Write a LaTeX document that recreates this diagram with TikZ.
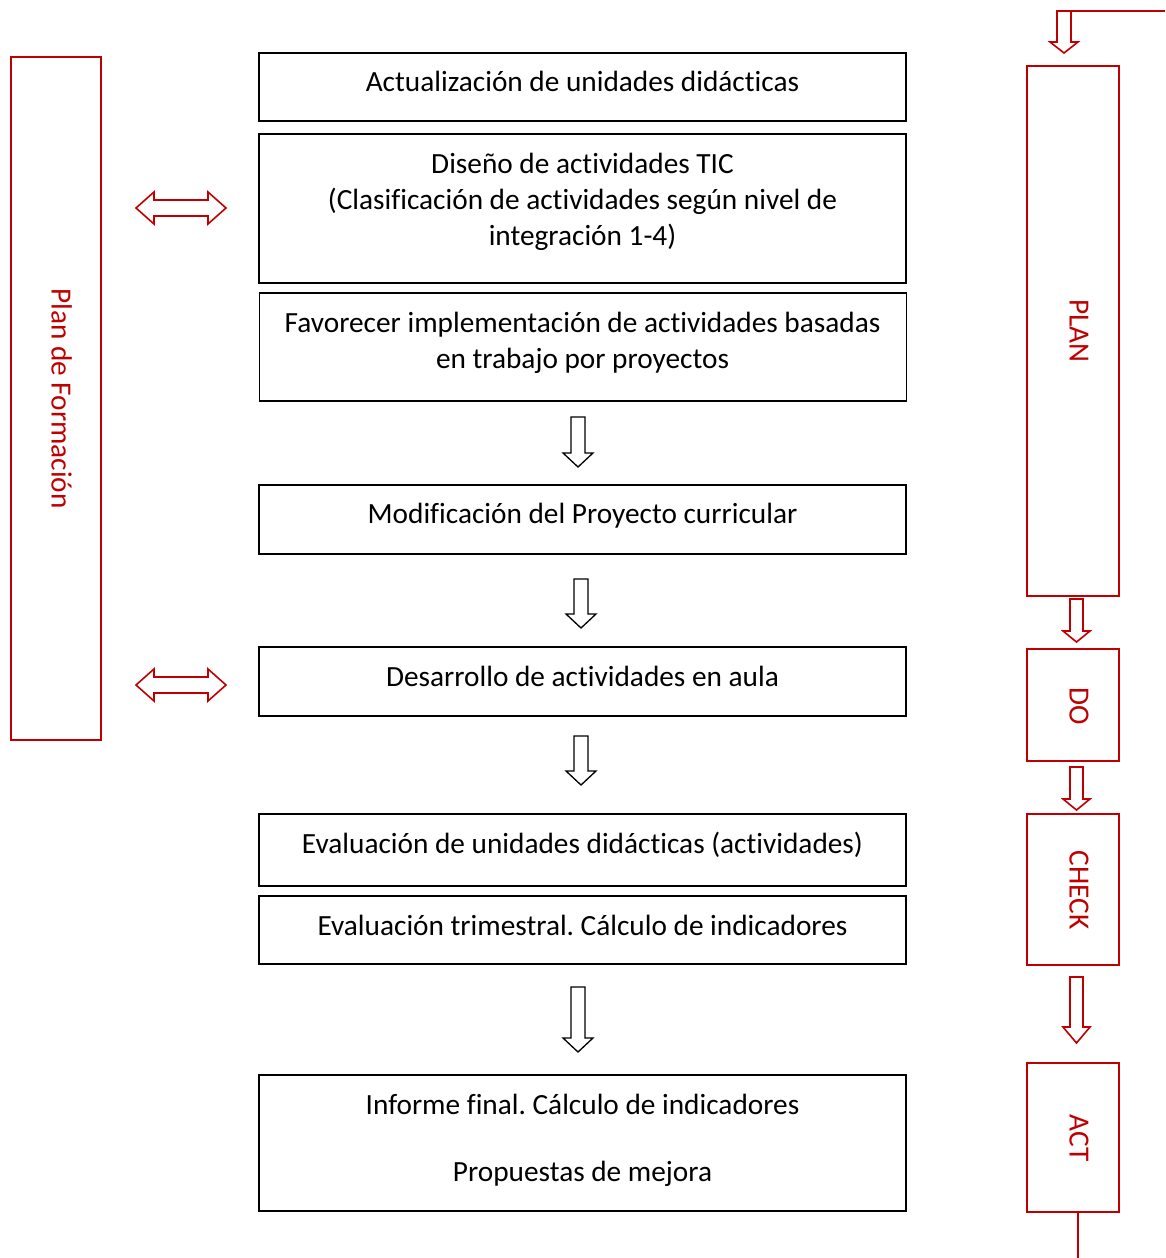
\documentclass[tikz,border=0pt]{standalone}
\usepackage{fontspec}
\setmainfont{Carlito}[Ligatures=NoCommon]
\definecolor{dred}{RGB}{192,0,0}
\tikzset{
  box/.style={draw=black, line width=1.6pt, rectangle, inner sep=0pt, minimum width=647pt},
  rbox/.style={draw=dred, line width=1.6pt, rectangle, inner sep=0pt},
  txt/.style={anchor=base, inner sep=0pt, font=\fontsize{29.3}{36}\selectfont},
  rtxt/.style={anchor=base, inner sep=0pt, rotate=-90, text=dred, font=\fontsize{29.3}{36}\selectfont},
  blk/.style={draw=black, line width=1.3pt, fill=white, line join=miter},
  rblk/.style={draw=dred, line width=1.6pt, fill=white, line join=miter},
  pics/downarr/.style args={#1/#2/#3/#4}{code={
    \draw[pic actions] (-#1,0) -- (#1,0) -- (#1,{#3-#4}) -- (#2,{#3-#4}) -- (0,#3)
      -- (-#2,{#3-#4}) -- (-#1,{#3-#4}) -- cycle;}},
  pics/dblarr/.style args={#1/#2/#3/#4}{code={
    \draw[pic actions] (-#1,0) -- ({-#1+#2},-#4) -- ({-#1+#2},-#3) -- ({#1-#2},-#3)
      -- ({#1-#2},-#4) -- (#1,0) -- ({#1-#2},#4) -- ({#1-#2},#3) -- ({-#1+#2},#3)
      -- ({-#1+#2},#4) -- cycle;}}
}
\frenchspacing
\begin{document}
\begin{tikzpicture}[x=1pt,y=-1pt]
\useasboundingbox (0,0) rectangle (1165,1258);
% central boxes
\node[box, minimum height=68pt]  (b1) at (582.5,87) {};
\node[box, minimum height=149pt] (b2) at (582.5,208.5) {};
\node[box, minimum height=108pt] (b3) at (583,347) {};
\node[box, minimum height=69pt]  (b4) at (582.5,519.5) {};
\node[box, minimum height=69pt]  (b5) at (582.5,681.5) {};
\node[box, minimum height=72pt]  (b6) at (582.5,850) {};
\node[box, minimum height=68pt]  (b7) at (582.5,930) {};
\node[box, minimum height=136pt] (b8) at (582.5,1143) {};
% texts
\node[txt] (t1)  at (582.5,91)  {Actualización de unidades didácticas};
\node[txt] (t2a) at (582.5,173) {Diseño de actividades TIC};
\node[txt] (t2b) at (582.5,209) {(Clasificación de actividades según nivel de};
\node[txt] (t2c) at (582.5,245) {integración 1-4)};
\node[txt] (t3a) at (582.5,332) {Favorecer implementación de actividades basadas};
\node[txt] (t3b) at (582.5,368) {en trabajo por proyectos};
\node[txt] (t4)  at (582.5,523) {Modificación del Proyecto curricular};
\node[txt] (t5)  at (582.5,686) {Desarrollo de actividades en aula};
\node[txt] (t6)  at (582.5,853) {Evaluación de unidades didácticas (actividades)};
\node[txt] (t7)  at (582.5,935) {Evaluación trimestral. Cálculo de indicadores};
\node[txt] (t8a) at (582.5,1114) {Informe final. Cálculo de indicadores};
\node[txt] (t8b) at (582.5,1181) {Propuestas de mejora};
% black block arrows
\pic[blk] at (578,417) {downarr=7/15/50/14};
\pic[blk] at (581,579) {downarr=7/15/49/14};
\pic[blk] at (581,736) {downarr=7/15/49/14};
\pic[blk] at (578,987) {downarr=7/15/65/14};
% left red box
\node[rbox, minimum width=90pt, minimum height=683pt] (pf) at (56,398.5) {};
\node[rtxt] (pft) at (51.5,398.5) {Plan de Formación};
% double arrows
\pic[rblk] at (181,208) {dblarr=45/18/8/16};
\pic[rblk] at (181,685) {dblarr=45/18/8/16};
% right PDCA column
\node[rbox, minimum width=92pt, minimum height=530pt] (plan)  at (1073,331) {};
\node[rbox, minimum width=92pt, minimum height=112pt] (do)    at (1073,705) {};
\node[rbox, minimum width=92pt, minimum height=151pt] (check) at (1073,889.5) {};
\node[rbox, minimum width=92pt, minimum height=149pt] (act)   at (1073,1137.5) {};
\node[rtxt] (plant)  at (1069.5,331) {PLAN};
\node[rtxt] (dot)    at (1069.5,706) {DO};
\node[rtxt] (checkt) at (1069.5,890) {CHECK};
\node[rtxt] (actt)   at (1069.5,1138) {ACT};
% red block arrows
\pic[rblk] at (1064,11) {downarr=7/14/42/11};
\pic[rblk] at (1076.5,599) {downarr=6.5/13.5/43/11};
\pic[rblk] at (1076.5,767) {downarr=6.5/13.5/43/11};
\pic[rblk] at (1076.5,977) {downarr=6.5/13.5/66/16};
% feedback lines
\coordinate (ltop) at (1057,11);
\coordinate (rtop) at (1165,11);
\draw[draw=dred, line width=1.6pt] (ltop) -- (rtop);
\coordinate (abot) at (1078,1212);
\coordinate (bend) at (1078,1258);
\draw[draw=dred, line width=1.6pt] (abot) -- (bend);
\end{tikzpicture}
\end{document}
